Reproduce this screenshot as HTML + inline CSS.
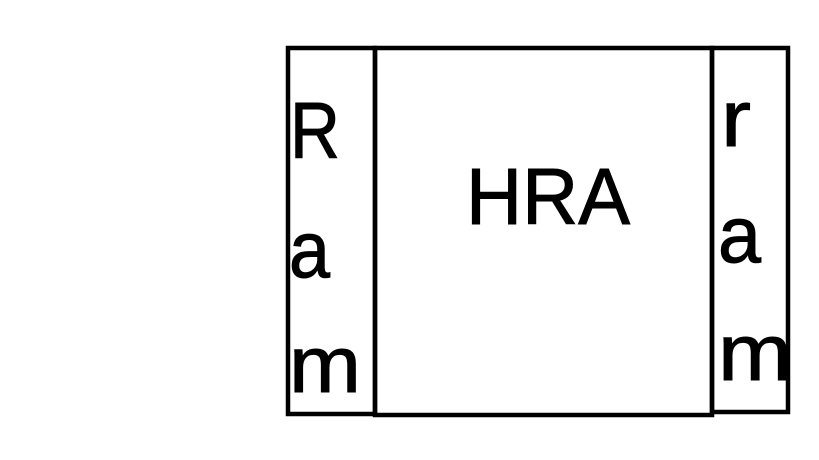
<!DOCTYPE html>
<html><head><style>body{margin:0;background:#fff}svg{display:block}</style></head>
<body>
<svg width="819" height="460" xmlns="http://www.w3.org/2000/svg">
<rect x="0" y="0" width="819" height="460" fill="#fff"/>
<g fill="none" stroke="#000" stroke-width="4.5">
<rect x="288" y="48" width="87" height="366"/>
<rect x="375" y="48" width="337" height="367"/>
<rect x="712" y="48" width="76" height="364"/>
</g>
<g font-family="'Liberation Sans', sans-serif" font-size="80" fill="#000" stroke="#000" stroke-width="1">
<text x="290" y="158" textLength="50" lengthAdjust="spacingAndGlyphs">R</text>
<text x="289" y="277" textLength="41" lengthAdjust="spacingAndGlyphs">a</text>
<text x="289" y="392" textLength="72" lengthAdjust="spacingAndGlyphs">m</text>
<text x="721" y="146" textLength="30" lengthAdjust="spacingAndGlyphs">r</text>
<text x="718" y="262" textLength="43" lengthAdjust="spacingAndGlyphs">a</text>
<text x="718" y="380" textLength="74" lengthAdjust="spacingAndGlyphs">m</text>
<text x="466" y="224" textLength="164" lengthAdjust="spacingAndGlyphs">HRA</text>
</g>
</svg>
</body></html>
